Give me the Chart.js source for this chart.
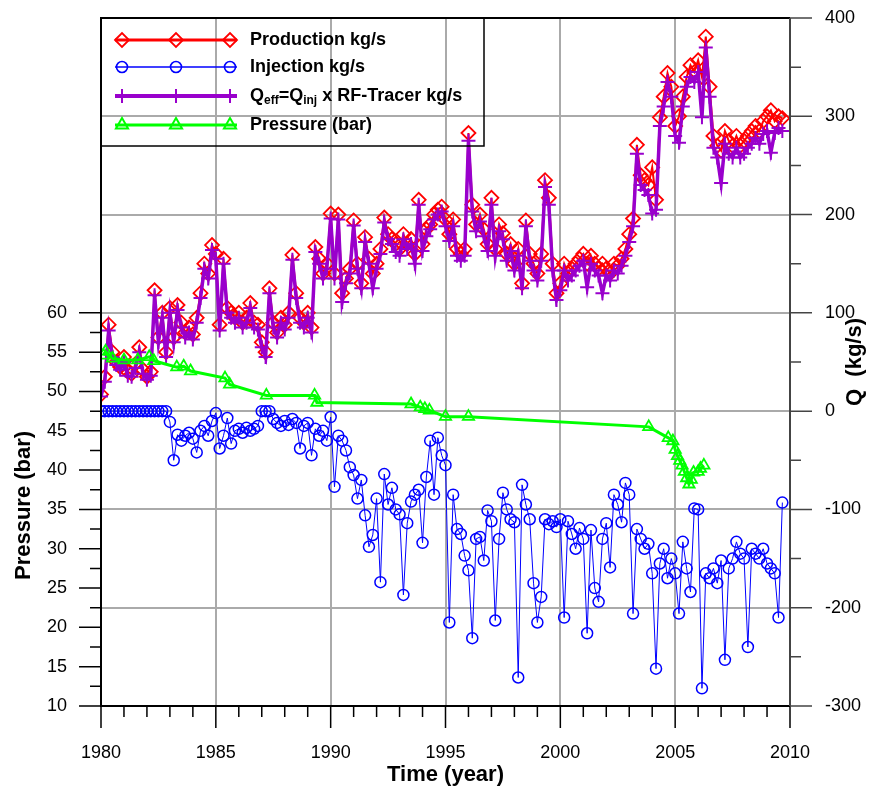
<!DOCTYPE html>
<html>
<head>
<meta charset="utf-8">
<script src="https://cdn.jsdelivr.net/npm/chart.js@4.4.1/dist/chart.umd.min.js"></script>
<style>
  html, body { margin: 0; background: #fff; }
  #wrap { width: 876px; height: 787px; }
</style>
</head>
<body>
<div id="wrap"><canvas id="chart"></canvas></div>
<script>
// production, Qeff and injection are sampled every 2 months from 1980.0
const production = [
  17, 35, 88, 60, 50, 45,
  55, 40, 38, 48, 65, 42,
  35, 40, 123, 75, 100, 60,
  105, 75, 108, 90, 80, 85,
  78, 95, 120, 150, 140, 169,
  160, 88, 155, 105, 100, 95,
  100, 90, 95, 110, 90, 88,
  70, 60, 125, 90, 80, 95,
  88, 100, 159, 120, 95, 90,
  100, 85, 167, 155, 140, 150,
  201, 140, 200, 120, 135, 145,
  194, 150, 130, 177, 155, 140,
  150, 165, 197, 180, 175, 170,
  165, 180, 170, 175, 160, 215,
  170, 185, 190, 200, 205, 208,
  195, 180, 195, 165, 160, 165,
  283, 210, 190, 200, 185, 170,
  217, 165, 190, 181, 160, 170,
  150, 165, 130, 194, 160, 150,
  140, 160, 235, 217, 150, 120,
  130, 150, 140, 145, 150, 155,
  160, 150, 158, 150, 145, 150,
  145, 140, 150, 148, 155, 165,
  180, 196, 271, 240, 235, 230,
  248, 215, 299, 320, 344, 330,
  290, 300, 320, 340, 352, 345,
  357, 340, 381, 330, 280, 270,
  265, 285, 275, 270, 280, 270,
  275, 280, 285, 290, 285, 295,
  300, 306, 295, 300, 298
];
const qeff = [
  15, 30, 82, 55, 47, 42,
  50, 36, 35, 44, 60, 38,
  32, 36, 118, 70, 95, 55,
  100, 70, 103, 85, 75, 80,
  73, 90, 115, 145, 135, 164,
  155, 82, 150, 100, 95, 90,
  95, 85, 90, 105, 85, 83,
  65, 55, 120, 85, 75, 90,
  83, 95, 154, 115, 90, 85,
  95, 80, 162, 150, 135, 145,
  196, 135, 195, 111, 130, 140,
  189, 145, 125, 172, 150, 125,
  145, 160, 192, 175, 170, 162,
  158, 175, 165, 170, 150, 210,
  163, 178, 185, 195, 200, 203,
  188, 173, 188, 158, 153, 158,
  275, 203, 183, 193, 178, 163,
  210, 158, 183, 175, 153, 163,
  143, 158, 125, 188, 153, 143,
  133, 153, 228, 210, 143, 113,
  123, 143, 133, 138, 143, 148,
  153, 126, 150, 143, 138, 120,
  138, 133, 143, 140, 148, 158,
  172, 188, 262, 230, 225, 220,
  201, 205, 290, 310, 335, 320,
  280, 273, 310, 330, 340, 335,
  345, 299, 370, 320, 268, 258,
  232, 272, 262, 258, 268, 258,
  262, 268, 272, 278, 272, 282,
  285, 263, 283, 288, 285
];
const injection = [
  0, 0, 0, 0, 0, 0,
  0, 0, 0, 0, 0, 0,
  0, 0, 0, 0, 0, 0,
  -11, -50, -24, -30, -25, -22,
  -28, -42, -20, -15, -25, -10,
  -2, -38, -25, -7, -33, -20,
  -18, -22, -17, -20, -18, -15,
  0, 0, 0, -8, -12, -15,
  -10, -14, -8, -12, -38, -15,
  -12, -45, -18, -25, -20, -30,
  -6, -77, -25, -30, -40, -57,
  -65, -89, -70, -106, -138, -126,
  -89, -174, -64, -95, -78, -100,
  -105, -187, -114, -92, -85, -80,
  -134, -67, -30, -85, -27, -45,
  -55, -215, -85, -120, -125, -147,
  -162, -231, -130, -128, -152, -101,
  -112, -213, -130, -83, -100, -110,
  -113, -271, -75, -95, -110, -175,
  -215, -189, -110, -115, -112, -118,
  -110, -210, -112, -125, -140, -119,
  -130, -226, -121, -180, -194, -130,
  -114, -159, -85, -95, -113, -73,
  -85, -206, -120, -130, -140, -135,
  -165, -262, -155, -140, -170, -150,
  -165, -206, -133, -160, -184, -99,
  -100, -282, -165, -170, -160, -175,
  -152, -253, -160, -150, -133, -145,
  -150, -240, -140, -145, -150, -140,
  -155, -160, -165, -210, -93
];
const t = production.map((_, i) => 1980 + i / 6);

const pressureYears = [1980.1, 1980.2, 1980.5, 1981.0, 1981.6, 1982.1, 1982.3, 1983.3, 1983.6, 1983.9,
  1985.4, 1985.6, 1987.2, 1989.3, 1989.4, 1993.5, 1993.9, 1994.1, 1994.3, 1995.0, 1996.0,
  2003.85, 2004.7, 2004.9, 2005.0, 2005.1, 2005.2, 2005.3, 2005.4, 2005.5, 2005.6, 2005.7,
  2005.8, 2006.0, 2006.1, 2006.25];
const pressure = [54.6, 55.1, 54.2, 54.0, 54.0, 54.4, 53.9, 53.1, 53.2, 52.6,
  51.7, 50.9, 49.5, 49.5, 48.6, 48.4, 48.0, 47.8, 47.6, 46.8, 46.8,
  45.5, 44.1, 43.7, 42.6, 41.8, 41.2, 40.6, 39.8, 39.0, 38.2, 38.8,
  39.7, 39.8, 40.2, 40.6];

const pressureTicks = [10, 15, 20, 25, 30, 35, 40, 45, 50, 55, 60];
const qTicks = [-300, -200, -100, 0, 100, 200, 300, 400];
const yearTicks = [1980, 1985, 1990, 1995, 2000, 2005, 2010];

const RED = '#ff0000', BLUE = '#0000ff', PURPLE = '#9900cc', GREEN = '#00ff00';
const NONE = 'rgba(0,0,0,0)';

const pts = vals => vals.map((v, i) => ({ x: t[i], y: v }));

const legendItems = [
  { text: 'Production kg/s', color: RED, width: 3, style: 'rectRot', r: 7, bw: 1.8 },
  { text: 'Injection kg/s', color: BLUE, width: 1.3, style: 'circle', r: 5.5, bw: 1.6 },
  { text: null, color: PURPLE, width: 4, style: 'cross', r: 7, bw: 2 },
  { text: 'Pressure (bar)', color: GREEN, width: 3, style: 'triangle', r: 7, bw: 2 }
];

// keep the plot box fixed: no extra room for half tick labels
function noPad(s) {
  s.paddingTop = 0; s.paddingBottom = 0; s.paddingLeft = 0; s.paddingRight = 0;
}

const decor = {
  id: 'decor',
  afterDraw(chart) {
    const { ctx, chartArea: a, scales } = chart;
    const sx = scales.x, sp = scales.yP, sq = scales.yQ;
    ctx.save();

    // frame
    ctx.lineWidth = 2;
    ctx.strokeStyle = '#000';
    ctx.beginPath();
    ctx.moveTo(a.right, a.top); ctx.lineTo(a.left, a.top);
    ctx.lineTo(a.left, a.bottom); ctx.lineTo(a.right, a.bottom);
    ctx.stroke();
    ctx.strokeStyle = '#444';
    ctx.beginPath();
    ctx.moveTo(a.right, a.top); ctx.lineTo(a.right, a.bottom);
    ctx.stroke();

    // tick marks
    ctx.lineWidth = 1.5;
    ctx.strokeStyle = '#000';
    ctx.beginPath();
    for (let y = 1980; y <= 2010; y++) {
      const px = sx.getPixelForValue(y);
      ctx.moveTo(px, a.bottom); ctx.lineTo(px, a.bottom + (y % 5 === 0 ? 22 : 11));
    }
    for (let p = 10; p <= 60; p += 2.5) {
      const py = sp.getPixelForValue(p);
      ctx.moveTo(a.left, py); ctx.lineTo(a.left - (p % 5 === 0 ? 22 : 11), py);
    }
    ctx.stroke();
    ctx.strokeStyle = '#444';
    ctx.beginPath();
    for (let q = -300; q <= 400; q += 50) {
      const py = sq.getPixelForValue(q);
      ctx.moveTo(a.right, py); ctx.lineTo(a.right + (q % 100 === 0 ? 22 : 11), py);
    }
    ctx.stroke();

    // axis titles
    ctx.fillStyle = '#000';
    ctx.font = 'bold 22px Arial';
    ctx.textAlign = 'center';
    ctx.textBaseline = 'middle';
    ctx.fillText('Time (year)', (a.left + a.right) / 2, 775);
    const pMid = (sp.getPixelForValue(10) + sp.getPixelForValue(60)) / 2 - 4;
    ctx.save();
    ctx.translate(24, pMid); ctx.rotate(-Math.PI / 2);
    ctx.fillText('Pressure (bar)', 0, 0);
    ctx.restore();
    ctx.save();
    ctx.translate(855, (a.top + a.bottom) / 2); ctx.rotate(-Math.PI / 2);
    ctx.fillText('Q  (kg/s)', 0, 0);
    ctx.restore();

    // legend box
    ctx.strokeStyle = '#000';
    ctx.lineWidth = 1.5;
    ctx.strokeRect(a.left, a.top, 383, 128);

    // legend
    const x0 = a.left + 14, x1 = a.left + 136;
    const rows = [a.top + 22, a.top + 49, a.top + 78, a.top + 107];
    legendItems.forEach((it, i) => {
      const y = rows[i];
      ctx.strokeStyle = it.color;
      ctx.lineWidth = it.width;
      ctx.beginPath(); ctx.moveTo(x0, y); ctx.lineTo(x1, y); ctx.stroke();
      ctx.fillStyle = NONE;
      ctx.lineWidth = it.bw;
      [a.left + 21, a.left + 75, a.left + 129].forEach(mx => {
        Chart.helpers.drawPoint(ctx, { pointStyle: it.style, radius: it.r, borderWidth: it.bw, rotation: 0 }, mx, y);
      });
      ctx.fillStyle = '#000';
      ctx.textAlign = 'left';
      ctx.textBaseline = 'middle';
      let tx = a.left + 149;
      if (it.text) {
        ctx.font = 'bold 18px Arial';
        ctx.fillText(it.text, tx, y);
      } else {
        const parts = [['Q', 0], ['eff', 1], ['=Q', 0], ['inj', 1], [' x RF-Tracer kg/s', 0]];
        parts.forEach(([s, sub]) => {
          ctx.font = sub ? 'bold 12px Arial' : 'bold 18px Arial';
          ctx.fillText(s, tx, y + (sub ? 5 : 0));
          tx += ctx.measureText(s).width;
        });
      }
    });
    ctx.restore();
  }
};

new Chart(document.getElementById('chart'), {
  type: 'line',
  data: {
    datasets: [
      {
        label: 'Pressure (bar)',
        data: pressureYears.map((x, i) => ({ x, y: pressure[i] })),
        yAxisID: 'yP',
        borderColor: GREEN, borderWidth: 3,
        pointStyle: 'triangle', pointRadius: 6.5, pointBorderWidth: 1.8,
        pointBorderColor: GREEN, pointBackgroundColor: NONE,
        order: 0
      },
      {
        label: 'Qeff=Qinj x RF-Tracer kg/s',
        data: pts(qeff),
        yAxisID: 'yQ',
        borderColor: PURPLE, borderWidth: 3.5,
        pointStyle: 'cross', pointRadius: 7, pointBorderWidth: 2,
        pointBorderColor: PURPLE, pointBackgroundColor: NONE,
        order: 1
      },
      {
        label: 'Production kg/s',
        data: pts(production),
        yAxisID: 'yQ',
        borderColor: RED, borderWidth: 2,
        pointStyle: 'rectRot', pointRadius: 7, pointBorderWidth: 1.8,
        pointBorderColor: RED, pointBackgroundColor: NONE,
        order: 2
      },
      {
        label: 'Injection kg/s',
        data: pts(injection),
        yAxisID: 'yQ',
        borderColor: BLUE, borderWidth: 1,
        pointStyle: 'circle', pointRadius: 5.5, pointBorderWidth: 1.5,
        pointBorderColor: BLUE, pointBackgroundColor: NONE,
        order: 3
      }
    ]
  },
  options: {
    responsive: true,
    maintainAspectRatio: false,
    animation: false,
    layout: { padding: { top: 18 } },
    plugins: { legend: { display: false }, tooltip: { enabled: false } },
    elements: { line: { tension: 0 } },
    scales: {
      x: {
        type: 'linear', min: 1980, max: 2010,
        afterFit(s) { s.height = 81; noPad(s); },
        afterBuildTicks(s) { s.ticks = yearTicks.map(v => ({ value: v })); },
        grid: { color: '#aaaaaa', lineWidth: 2, drawTicks: false },
        border: { display: false },
        ticks: { padding: 36, color: '#000', font: { family: 'Arial', size: 18 }, callback: v => String(v) }
      },
      yP: {
        position: 'left', min: 10, max: 97.5,
        afterFit(s) { s.width = 101; noPad(s); },
        afterBuildTicks(s) { s.ticks = pressureTicks.map(v => ({ value: v })); },
        grid: { display: false, drawTicks: false },
        border: { display: false },
        ticks: { padding: 34, color: '#000', font: { family: 'Arial', size: 18 } }
      },
      yQ: {
        position: 'right', min: -300, max: 400,
        afterFit(s) { s.width = 86; noPad(s); },
        afterBuildTicks(s) { s.ticks = qTicks.map(v => ({ value: v })); },
        grid: { color: '#aaaaaa', lineWidth: 2, drawTicks: false },
        border: { display: false },
        ticks: { padding: 35, color: '#000', font: { family: 'Arial', size: 18 } }
      }
    }
  },
  plugins: [decor]
});
</script>
</body>
</html>
